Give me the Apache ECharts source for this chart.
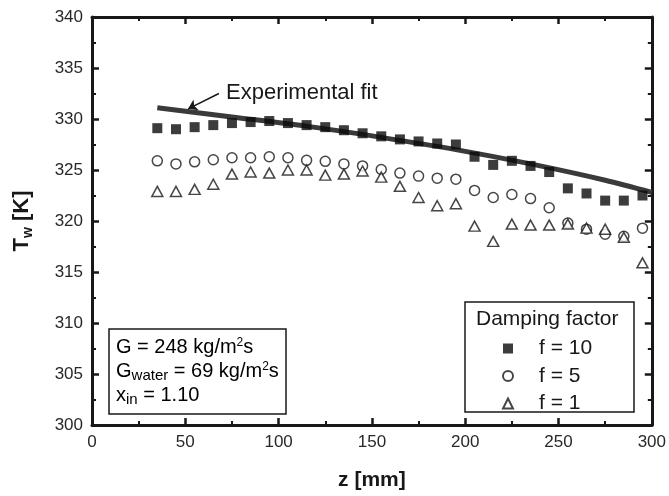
<!DOCTYPE html>
<html>
<head>
<meta charset="utf-8">
<script src="https://cdn.jsdelivr.net/npm/echarts@6/dist/echarts.min.js"></script>
<style>
  html, body { margin: 0; padding: 0; background: #fff; }
  #main { width: 669px; height: 496px; }
</style>
</head>
<body>
<div id="main"></div>
<script>
// axial positions [mm]
var zVals = [35, 45, 55, 65, 75, 85, 95, 105, 115, 125, 135, 145, 155, 165, 175,
  185, 195, 205, 215, 225, 235, 245, 255, 265, 275, 285, 295];
// wall temperature [K] for each damping factor
var f10 = [329.1, 329.0, 329.2, 329.4, 329.6, 329.7, 329.8, 329.6, 329.4, 329.2, 328.9, 328.6,
  328.3, 328.0, 327.8, 327.6, 327.5, 326.3, 325.5, 325.9, 325.4, 324.8, 323.2, 322.7, 322.0, 322.0, 322.5];
var f5 = [325.9, 325.6, 325.8, 326.0, 326.2, 326.2, 326.3, 326.2, 325.95, 325.85, 325.6, 325.4,
  325.05, 324.7, 324.4, 324.2, 324.1, 323.0, 322.3, 322.6, 322.2, 321.3, 319.8, 319.2, 318.7, 318.5, 319.3];
var f1 = [322.9, 322.9, 323.1, 323.6, 324.6, 324.8, 324.7, 325.0, 325.0, 324.5, 324.6, 324.9,
  324.3, 323.4, 322.3, 321.5, 321.7, 319.5, 318.0, 319.7, 319.6, 319.6, 319.7, 319.3, 319.2, 318.4, 315.9];
// experimental fit
var fitZ = [35, 75, 115, 155, 195, 235, 275, 300];
var fitT = [331.1, 330.2, 329.3, 328.2, 327.0, 325.6, 324.0, 322.8];

var ink = '#1a1718';
var font = 'Liberation Sans, Arial, sans-serif';

function pairs(xs, ys) {
  var out = [];
  for (var i = 0; i < xs.length; i++) out.push([xs[i], ys[i]]);
  return out;
}

function axisBase(showLabel) {
  return {
    type: 'value',
    axisLine: { show: true, onZero: false, lineStyle: { color: ink, width: 3 } },
    axisTick: { show: true, inside: true, length: 7, lineStyle: { color: ink, width: 2.5 } },
    minorTick: { show: true, splitNumber: 2, length: 4, lineStyle: { color: ink, width: 2 } },
    splitLine: { show: false },
    axisLabel: { show: showLabel, color: '#2a2728', fontSize: 17, fontFamily: font, margin: 9 }
  };
}

var xBottom = axisBase(true);
xBottom.min = 0; xBottom.max = 300; xBottom.interval = 50; xBottom.position = 'bottom';
xBottom.name = 'z [mm]';
xBottom.nameLocation = 'middle';
xBottom.nameGap = 45;
xBottom.nameTextStyle = { color: ink, fontSize: 21, fontWeight: 'bold', fontFamily: font };
var xTop = axisBase(false);
xTop.min = 0; xTop.max = 300; xTop.interval = 50; xTop.position = 'top';

var yLeft = axisBase(true);
yLeft.min = 300; yLeft.max = 340; yLeft.interval = 5; yLeft.position = 'left';
yLeft.name = '{a|T}{b|w}{a| [K]}';
yLeft.nameLocation = 'middle';
yLeft.nameGap = 57;
yLeft.nameRotate = 90;
yLeft.nameTextStyle = {
  color: ink, fontFamily: font,
  rich: {
    a: { fontSize: 22, fontWeight: 'bold', color: ink, fontFamily: font, lineHeight: 26 },
    b: { fontSize: 14, fontWeight: 'bold', color: ink, fontFamily: font, verticalAlign: 'bottom', lineHeight: 14 }
  }
};
var yRight = axisBase(false);
yRight.min = 300; yRight.max = 340; yRight.interval = 5; yRight.position = 'right';

var richBox = {
  n: { fontSize: 20, fontFamily: font, color: ink, lineHeight: 24 },
  sup: { fontSize: 12, fontFamily: font, color: ink, lineHeight: 12, verticalAlign: 'top', padding: [2, 0, 0, 0] },
  sub: { fontSize: 15, fontFamily: font, color: ink, lineHeight: 15, verticalAlign: 'bottom', padding: [0, 0, 0, 0] }
};

var hollow = { color: '#fff', borderColor: ink, borderWidth: 1.5 };

var option = {
  backgroundColor: '#fff',
  animation: false,
  grid: { left: 92, right: 16, top: 17, bottom: 67 },
  xAxis: [xBottom, xTop],
  yAxis: [yLeft, yRight],
  legend: {
    data: ['f = 10', 'f = 5', 'f = 1'],
    orient: 'vertical',
    left: 497,
    top: 333,
    itemWidth: 10,
    itemHeight: 10,
    itemGap: 6.5,
    z: 6,
    textStyle: { color: ink, fontSize: 21, fontFamily: font, lineHeight: 20, padding: [0, 0, 0, 21] }
  },
  graphic: [
    {
      type: 'rect', z: 5,
      shape: { x: 465, y: 302, width: 169, height: 110 },
      style: { fill: '#fff', stroke: ink, lineWidth: 1.5 }
    },
    {
      type: 'text', z: 6, left: 476, top: 309,
      style: { text: 'Damping factor', fontSize: 21, fontFamily: font, fill: ink }
    },
    {
      type: 'rect', z: 5,
      shape: { x: 109, y: 329, width: 177, height: 85 },
      style: { fill: '#fff', stroke: ink, lineWidth: 1.5 }
    },
    {
      type: 'text', z: 6, left: 116, top: 335,
      style: {
        text: '{n|G = 248 kg/m}{sup|2}{n|s}\n{n|G}{sub|water}{n| = 69 kg/m}{sup|2}{n|s}\n{n|x}{sub|in}{n| = 1.10}',
        rich: richBox
      }
    },
    {
      type: 'text', z: 6, left: 226, top: 82,
      style: { text: 'Experimental fit', fontSize: 22, fontFamily: font, fill: ink }
    }
  ],
  series: [
    {
      name: 'fit',
      type: 'line',
      data: pairs(fitZ, fitT),
      smooth: 0.3,
      symbol: 'none',
      z: 1,
      lineStyle: { color: '#3a3a3a', width: 5 },
      markLine: {
        silent: true,
        symbol: ['none', 'arrow'],
        symbolSize: 9,
        label: { show: false },
        lineStyle: { color: ink, width: 1.5, type: 'solid' },
        data: [[{ coord: [68, 332.5] }, { coord: [51.5, 331.0] }]]
      }
    },
    {
      name: 'f = 10',
      type: 'scatter',
      data: pairs(zVals, f10),
      symbol: 'rect',
      symbolSize: 10,
      itemStyle: { color: '#0d0b0c' }
    },
    {
      name: 'f = 5',
      type: 'scatter',
      data: pairs(zVals, f5),
      symbol: 'circle',
      symbolSize: 10,
      itemStyle: hollow
    },
    {
      name: 'f = 1',
      type: 'scatter',
      data: pairs(zVals, f1),
      symbol: 'triangle',
      symbolSize: [11, 10],
      itemStyle: hollow
    }
  ]
};

var myChart = echarts.init(document.getElementById('main'));
myChart.setOption(option);
</script>
</body>
</html>
